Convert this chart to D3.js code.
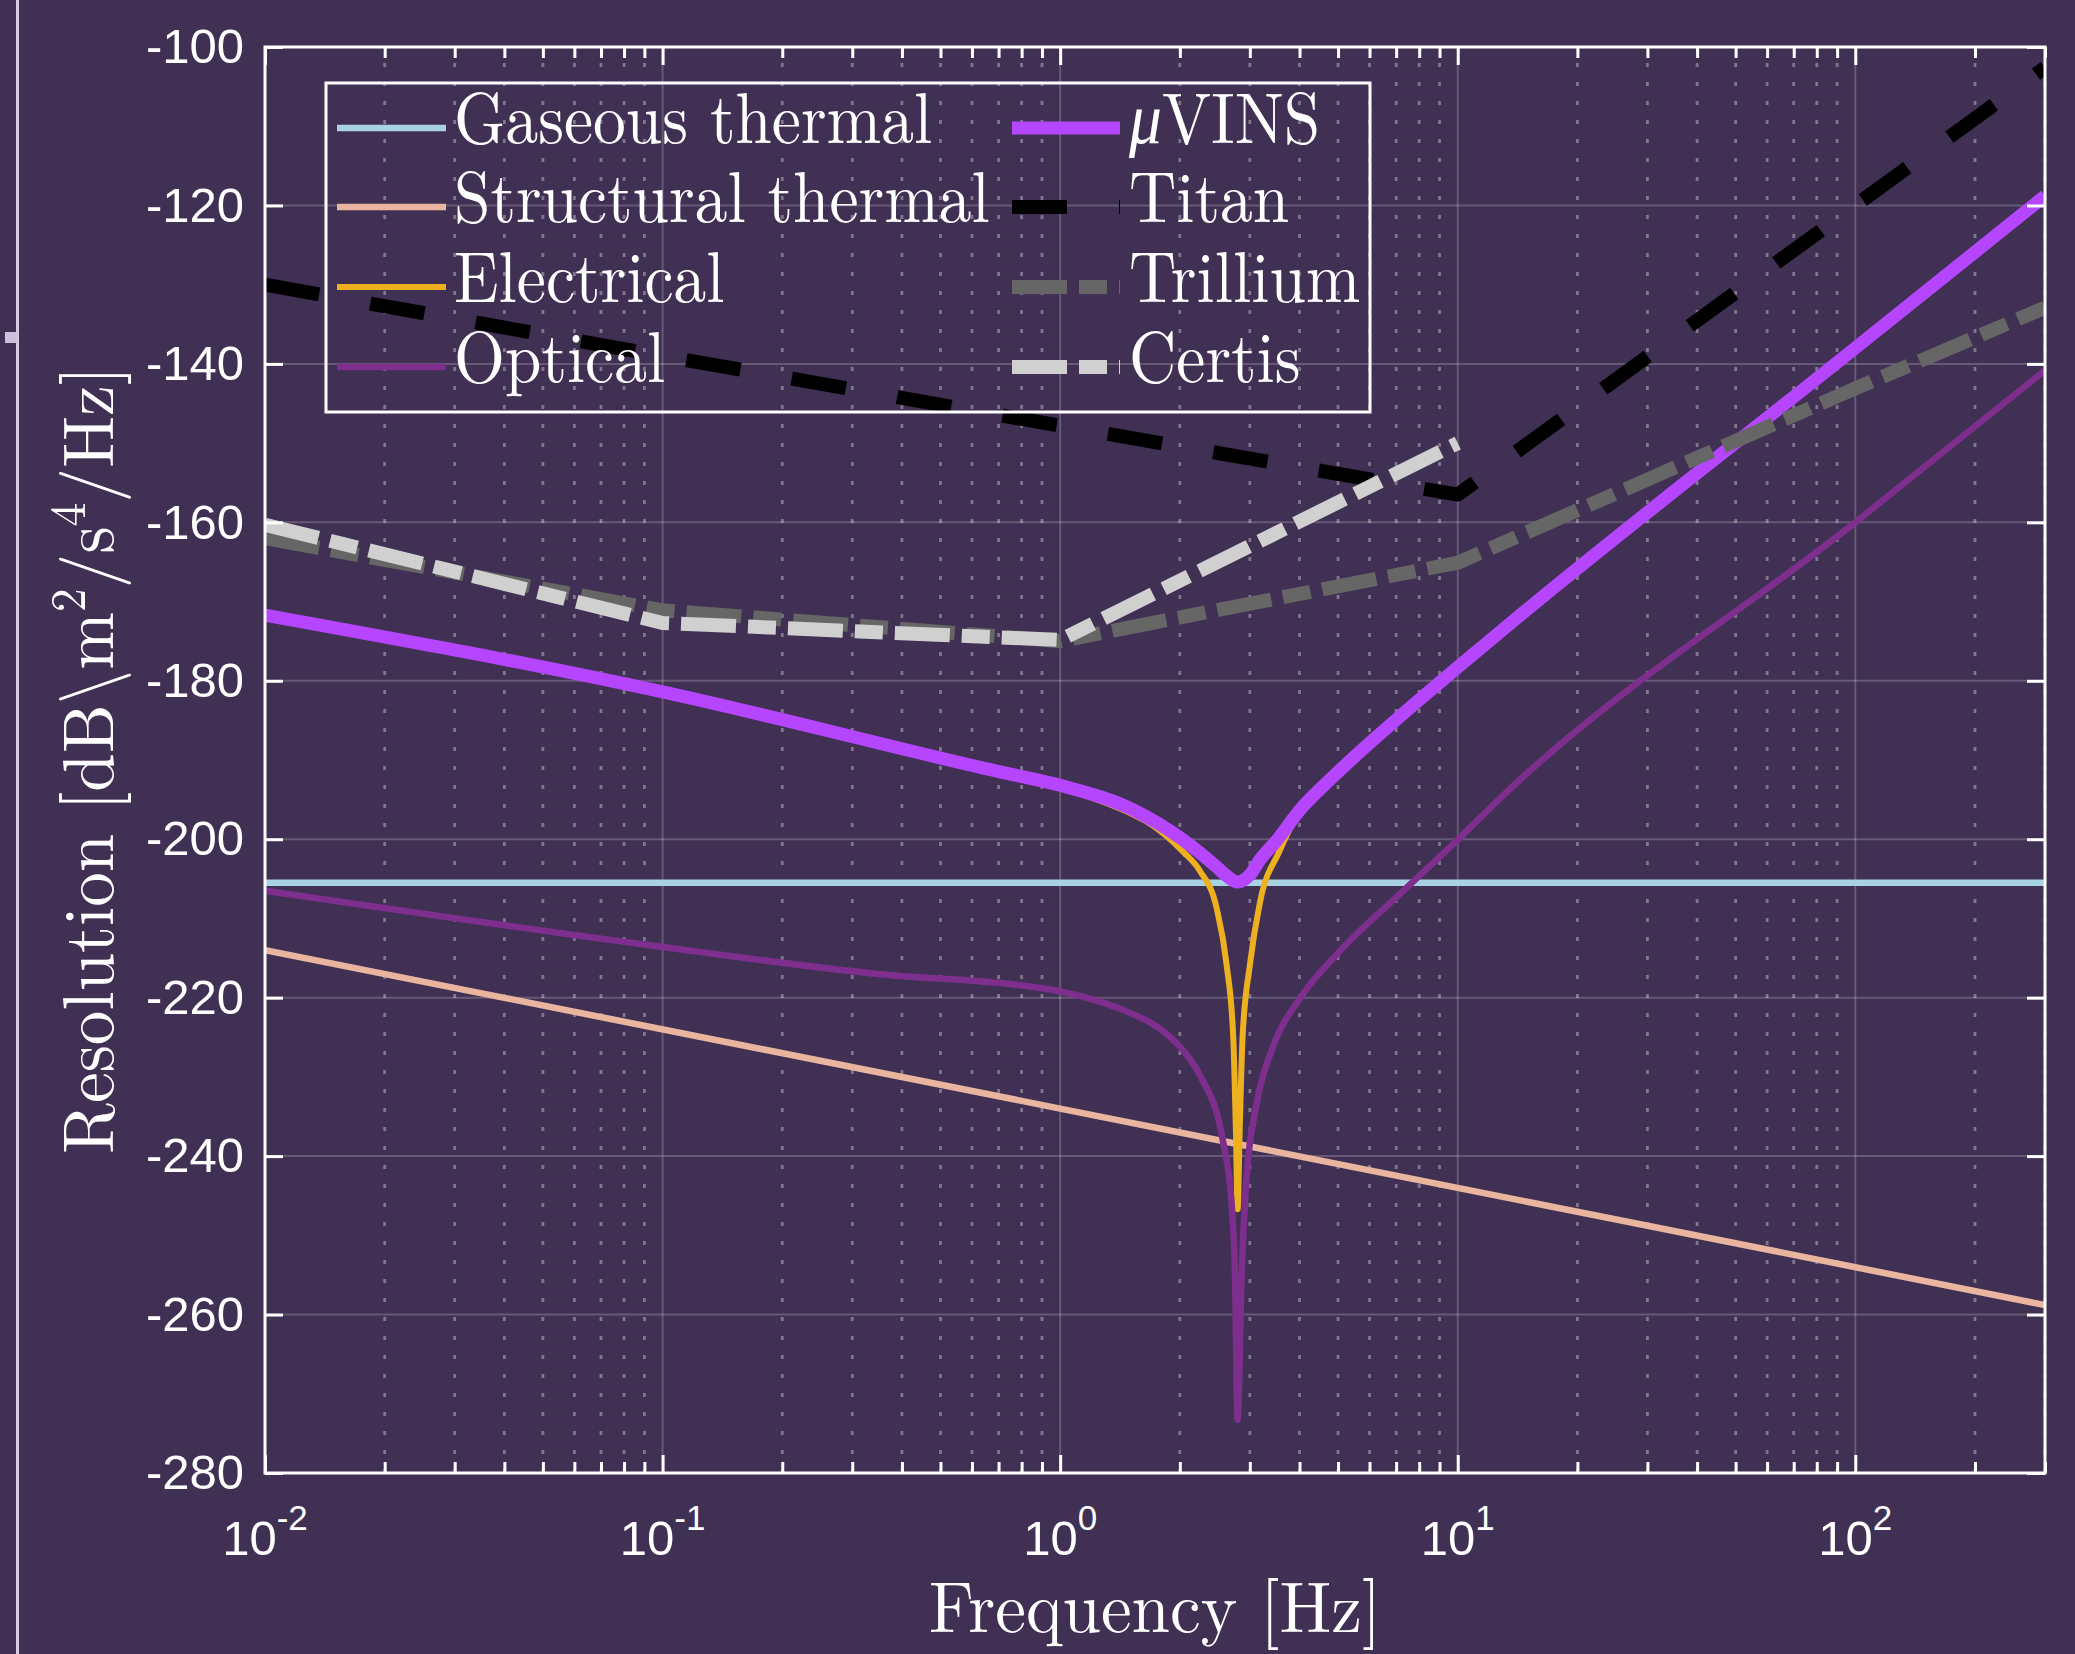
<!DOCTYPE html>
<html>
<head>
<meta charset="utf-8">
<script src="https://cdn.jsdelivr.net/npm/d3@7"></script>
<style>
  html, body { margin: 0; padding: 0; background: #403053; }
  svg { display: block; }
</style>
</head>
<body>
<svg id="chart" width="2075" height="1654"></svg>
<script>
// values: frequency [Hz], resolution [dB]
const gaseousF = [0.01, 300];
const gaseousV = [-205.5, -205.5];

const structuralF = [0.01, 1, 300];
const structuralV = [-214, -234, -258.8];

const electricalF = [0.01, 0.1, 0.706, 1, 1.527, 1.68, 2.04, 2.247, 2.475, 2.623, 2.725, 2.768, 2.795, 2.828, 2.876, 3.0, 3.18, 3.57, 3.855, 4.01, 4.86, 7.16, 10, 14.3, 100, 300];
const electricalV = [-171.8, -181.5, -191.7, -193.5, -196.9, -198.0, -201.6, -204.0, -208.7, -215.9, -225.0, -237.0, -246.7, -237.0, -225.0, -215.9, -208.0, -201.4, -197.9, -196.5, -192.2, -184.6, -178.4, -171.9, -138.1, -118.9];

const opticalF = [0.01, 0.1, 0.347, 0.84, 1, 1.259, 1.464, 1.854, 2.05, 2.247, 2.57, 2.70, 2.753, 2.795, 2.86, 2.94, 3.12, 3.43, 4.01, 5.06, 7.16, 9.93, 12.8, 100, 300];
const opticalV = [-206.5, -213.6, -217.0, -218.6, -219.2, -220.5, -221.7, -224.6, -226.8, -229.8, -238.2, -246.1, -255.1, -273.3, -255.1, -243.1, -233.4, -226.2, -220.1, -214.1, -206.9, -200.2, -194.8, -160, -140.8];

const muvinsF = [0.01, 0.1, 0.706, 1, 1.527, 2.04, 2.475, 2.62, 2.795, 3.0, 3.18, 3.5, 4.01, 4.86, 7.16, 10, 14.3, 100, 300];
const muvinsV = [-171.7, -181.4, -191.5, -193.2, -196.3, -200.1, -203.5, -204.6, -205.4, -204.5, -202.6, -200.2, -196.3, -192.1, -184.5, -178.3, -171.8, -138, -118.8];

const titanF = [0.01, 0.1, 1, 10, 100, 300];
const titanV = [-130, -139, -147.8, -156.5, -120, -102.6];

const trilliumF = [0.01, 0.1, 1, 10, 100, 300];
const trilliumV = [-162, -171.1, -175, -165.1, -143.1, -132.9];

const certisF = [0.01, 0.1, 1, 10];
const certisV = [-160.3, -172.7, -174.85, -150];

const legendNames = ['Gaseous thermal', 'Structural thermal', 'Electrical', 'Optical', 'μVINS', 'Titan', 'Trillium', 'Certis'];
const yTicks = [-280, -260, -240, -220, -200, -180, -160, -140, -120, -100];
const xTickExps = [-2, -1, 0, 1, 2];

const series = [
  { f: gaseousF, v: gaseousV, color: '#a8d3e4', width: 6.5, dash: null, smooth: false },
  { f: structuralF, v: structuralV, color: '#e9b59e', width: 6.5, dash: null, smooth: false },
  { f: electricalF, v: electricalV, color: '#edb120', width: 6, dash: null, smooth: true },
  { f: opticalF, v: opticalV, color: '#7e2f8e', width: 6.5, dash: null, smooth: true },
  { f: muvinsF, v: muvinsV, color: '#b546fd', width: 13, dash: null, smooth: true },
  { f: titanF, v: titanV, color: '#000000', width: 14, dash: '55,52', smooth: false },
  { f: trilliumF, v: trilliumV, color: '#666666', width: 14, dash: '55,12,28,12', smooth: false },
  { f: certisF, v: certisV, color: '#d0d0d0', width: 14, dash: '55,12,28,12', smooth: false }
];

const plot = { left: 265, right: 2045, top: 47, bottom: 1473 };
const svg = d3.select('#chart');
const sansFont = '"Liberation Sans", Arial, Helvetica, sans-serif';
const serifFont = '"Latin Modern Roman", "CMU Serif", "Liberation Serif", "Times New Roman", serif';

svg.append('rect').attr('width', 2075).attr('height', 1654).attr('fill', '#403053');

// bits of the neighbouring panel at the left edge
svg.append('line').attr('x1', 17.5).attr('x2', 17.5).attr('y1', 0).attr('y2', 1654)
  .attr('stroke', '#d6cce2').attr('stroke-width', 3);
svg.append('rect').attr('x', 5).attr('y', 332).attr('width', 12).attr('height', 11).attr('fill', '#cdc0dd');

const x = d3.scaleLog().domain([0.01, 300]).range([plot.left, plot.right]);
const y = d3.scaleLinear().domain([-280, -100]).range([plot.bottom, plot.top]);

const majorX = xTickExps.map(e => Math.pow(10, e));
const minorX = [];
xTickExps.forEach(e => {
  for (let k = 2; k <= 9; k++) {
    const f = k * Math.pow(10, e);
    if (f <= 300) minorX.push(f);
  }
});

// grid
const grid = svg.append('g');
grid.selectAll('.minor').data(minorX).enter().append('line')
  .attr('x1', d => x(d)).attr('x2', d => x(d))
  .attr('y1', plot.bottom).attr('y2', plot.top)
  .attr('stroke', 'rgba(255,255,255,0.34)').attr('stroke-width', 2.8)
  .attr('stroke-dasharray', '4,15');
grid.selectAll('.majorx').data(majorX).enter().append('line')
  .attr('x1', d => x(d)).attr('x2', d => x(d))
  .attr('y1', plot.bottom).attr('y2', plot.top)
  .attr('stroke', 'rgba(255,255,255,0.2)').attr('stroke-width', 2);
grid.selectAll('.majory').data(yTicks).enter().append('line')
  .attr('x1', plot.left).attr('x2', plot.right)
  .attr('y1', d => y(d)).attr('y2', d => y(d))
  .attr('stroke', 'rgba(255,255,255,0.2)').attr('stroke-width', 2);

// curves
svg.append('clipPath').attr('id', 'clip').append('rect')
  .attr('x', plot.left).attr('y', plot.top)
  .attr('width', plot.right - plot.left).attr('height', plot.bottom - plot.top);

const lines = svg.append('g').attr('clip-path', 'url(#clip)');
series.forEach(s => {
  const pts = s.f.map((f, i) => [f, s.v[i]]);
  const gen = d3.line()
    .x(d => x(d[0]))
    .y(d => y(d[1]))
    .curve(s.smooth ? d3.curveMonotoneX : d3.curveLinear);
  lines.append('path')
    .attr('d', gen(pts))
    .attr('fill', 'none')
    .attr('stroke', s.color)
    .attr('stroke-width', s.width)
    .attr('stroke-linejoin', 'round')
    .attr('stroke-dasharray', s.dash);
});

// axes with inward ticks
function styleAxis(g) {
  g.select('.domain').remove();
  g.selectAll('.tick line').attr('stroke', '#ffffff').attr('stroke-width', 3);
}
svg.append('g').attr('transform', `translate(0,${plot.bottom})`)
  .call(d3.axisBottom(x).tickValues(minorX).tickSize(-11).tickFormat(''))
  .call(styleAxis);
svg.append('g').attr('transform', `translate(0,${plot.bottom})`)
  .call(d3.axisBottom(x).tickValues(majorX).tickSize(-18).tickFormat(''))
  .call(styleAxis);
svg.append('g').attr('transform', `translate(0,${plot.top})`)
  .call(d3.axisTop(x).tickValues(minorX).tickSize(-11).tickFormat(''))
  .call(styleAxis);
svg.append('g').attr('transform', `translate(0,${plot.top})`)
  .call(d3.axisTop(x).tickValues(majorX).tickSize(-18).tickFormat(''))
  .call(styleAxis);
svg.append('g').attr('transform', `translate(${plot.right},0)`)
  .call(d3.axisRight(y).tickValues(yTicks).tickSize(-18).tickFormat(''))
  .call(styleAxis);

const yAxis = svg.append('g').attr('transform', `translate(${plot.left},0)`)
  .call(d3.axisLeft(y).tickValues(yTicks).tickSize(-18).tickPadding(21).tickFormat(d => String(d)))
  .call(styleAxis);
yAxis.selectAll('.tick text')
  .attr('fill', '#ffffff')
  .style('font-family', sansFont)
  .style('font-size', '49px');

svg.append('rect')
  .attr('x', plot.left).attr('y', plot.top)
  .attr('width', plot.right - plot.left).attr('height', plot.bottom - plot.top)
  .attr('fill', 'none').attr('stroke', '#ffffff').attr('stroke-width', 3);

// x tick labels 10^n
const xLab = svg.append('g').attr('fill', '#ffffff').style('font-family', sansFont);
xTickExps.forEach(e => {
  const t = xLab.append('text')
    .attr('x', x(Math.pow(10, e)))
    .attr('y', 1555)
    .attr('text-anchor', 'middle')
    .style('font-size', '49px');
  t.append('tspan').text('10');
  t.append('tspan').attr('dy', -25).style('font-size', '35px').text(String(e));
});

// axis titles (serif squeezed a little to match the LaTeX widths)
svg.append('text')
  .attr('transform', `translate(${(plot.left + plot.right) / 2},1632) scale(0.96,1)`)
  .attr('text-anchor', 'middle')
  .attr('fill', '#ffffff')
  .style('font-family', serifFont)
  .style('font-size', '72px')
  .text('Frequency [Hz]');

const yTitle = svg.append('text')
  .attr('transform', `translate(113,${(plot.top + plot.bottom) / 2}) rotate(-90) scale(0.96,1)`)
  .attr('text-anchor', 'middle')
  .attr('fill', '#ffffff')
  .style('font-family', serifFont)
  .style('font-size', '72px');
yTitle.append('tspan').text('Resolution [dB\\m');
yTitle.append('tspan').attr('dy', -28).style('font-size', '50px').text('2');
yTitle.append('tspan').attr('dy', 28).text('/s');
yTitle.append('tspan').attr('dy', -28).style('font-size', '50px').text('4');
yTitle.append('tspan').attr('dy', 28).text('/Hz]');

// legend
const legend = svg.append('g');
legend.append('rect')
  .attr('x', 326).attr('y', 83).attr('width', 1044).attr('height', 329)
  .attr('fill', 'none').attr('stroke', '#ffffff').attr('stroke-width', 3);

const legendCols = [{ x1: 337, x2: 446, tx: 454 }, { x1: 1012, x2: 1120, tx: 1129 }];
const legendRows = [128, 207, 287, 367];

legendNames.forEach((name, i) => {
  const col = legendCols[Math.floor(i / 4)];
  const ry = legendRows[i % 4];
  const s = series[i];
  legend.append('line')
    .attr('x1', col.x1).attr('x2', col.x2).attr('y1', ry).attr('y2', ry)
    .attr('stroke', s.color).attr('stroke-width', s.width)
    .attr('stroke-dasharray', s.dash);
  const t = legend.append('text')
    .attr('transform', `translate(${col.tx},${ry + 15}) scale(0.91,1)`)
    .attr('fill', '#ffffff')
    .style('font-family', serifFont)
    .style('font-size', '72px');
  if (name.startsWith('μ')) {
    t.append('tspan').style('font-style', 'italic').text('μ');
    t.append('tspan').text(name.slice(1));
  } else {
    t.text(name);
  }
});
</script>
</body>
</html>
